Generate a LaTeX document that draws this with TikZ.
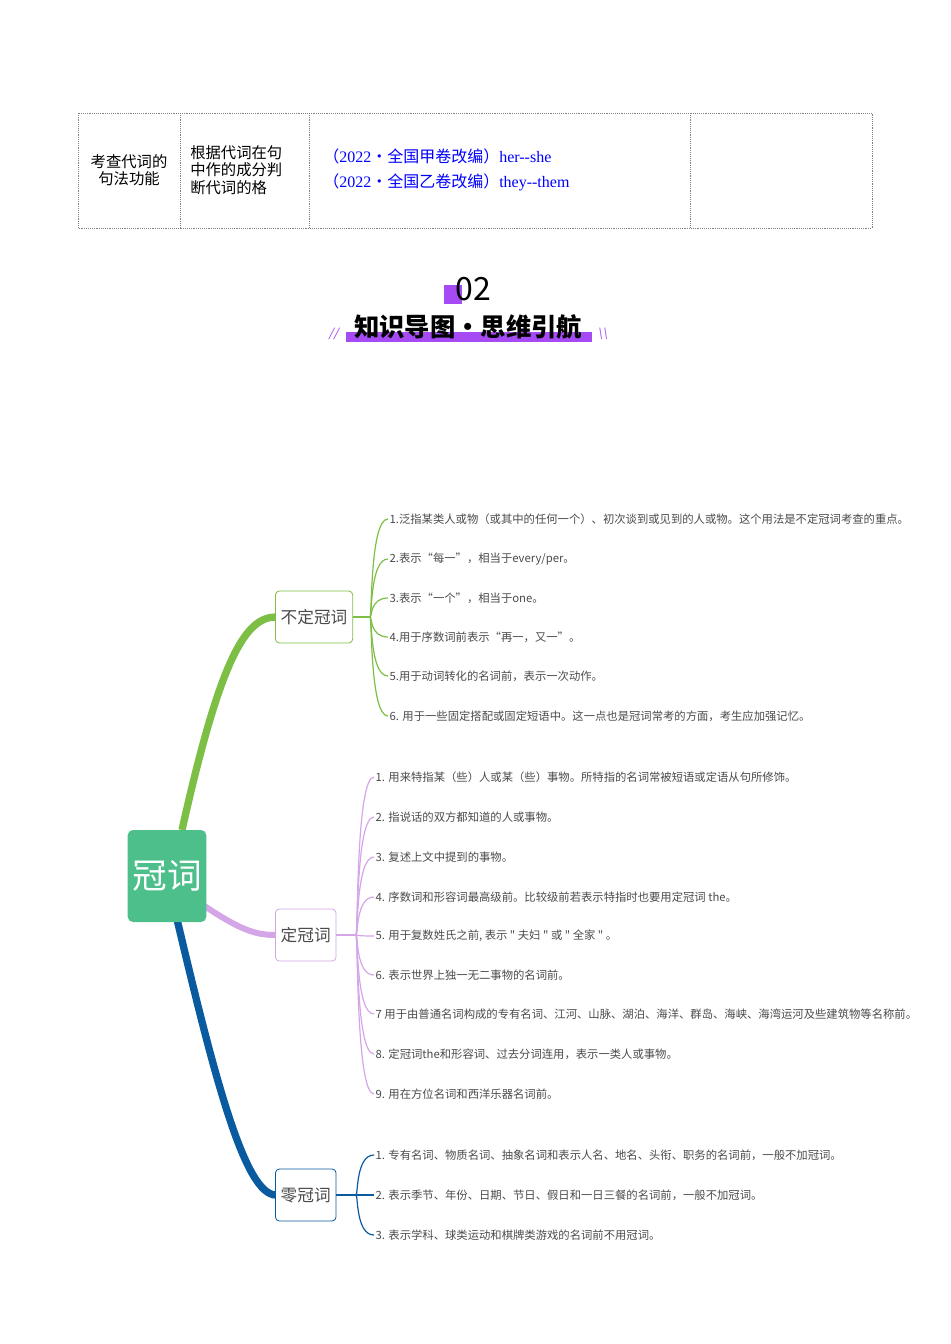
\documentclass[tikz,border=0pt]{standalone}
\usepackage{fontspec}
\setmainfont{Liberation Serif}
\newfontfamily\cjk{Noto Sans CJK SC}
\usetikzlibrary{positioning}
\definecolor{rootgreen}{HTML}{4DBF8A}
\definecolor{brgreen}{HTML}{7DBE45}
\definecolor{brlilac}{HTML}{D4A6E8}
\definecolor{brblue}{HTML}{0A5AA0}
\definecolor{titlepurple}{HTML}{A64BF4}
\definecolor{itemgray}{HTML}{4A4A4A}
\tikzset{
  cell/.style = {font=\cjk\fontsize{11.5}{13}\selectfont, align=left},
  branch/.style = {draw=#1, rounded corners=3pt, fill=white, line width=0.6pt,
                   font=\cjk\fontsize{12.5}{14}\selectfont, text=itemgray,
                   minimum height=39pt, inner sep=4pt},
  item/.style = {anchor=west, font=\cjk\fontsize{8.5}{10}\selectfont, text=itemgray, inner sep=1pt}
}
\begin{document}
\begin{tikzpicture}[x=0.75pt,y=-0.75pt]
	\useasboundingbox (0,0) rectangle (950,1344);
	
	% Table
	\draw[gray, densely dotted] (78,113) rectangle (872,228);
	\draw[gray, densely dotted] (180,113) -- (180,228);
	\draw[gray, densely dotted] (309,113) -- (309,228);
	\draw[gray, densely dotted] (690,113) -- (690,228);
	\node[cell, align=center] (c1) at (129,170) {考查代词的\\句法功能};
	\node[cell, anchor=west, inner sep=0pt] (c2) at (190,170) {根据代词在句\\中作的成分判\\断代词的格};
	\node[anchor=west, text=blue, inner sep=0pt, font=\fontsize{12}{14}\selectfont] (c3a) at (323,156) {{\cjk（}2022{\cjk·全国甲卷改编）}her-{}-she};
	\node[anchor=west, text=blue, inner sep=0pt, font=\fontsize{12}{14}\selectfont] (c3b) at (323,182) {{\cjk（}2022{\cjk·全国乙卷改编）}they-{}-them};
	
	% Heading
	\fill[titlepurple] (444,285) rectangle (462,304);
	\node[font=\cjk\fontsize{24}{26}\selectfont] (num) at (473,289) {02};
	\fill[titlepurple] (346,332) rectangle (592,342);
	\node[font=\cjk\bfseries\fontsize{19}{21}\selectfont] (title) at (468,327) {知识导图·思维引航};
	\node[text=titlepurple, font=\itshape\fontsize{13}{14}\selectfont] (sl1) at (334,334) {//};
	\node[text=titlepurple, font=\itshape\fontsize{13}{14}\selectfont] (sl2) at (603,334) {\textbackslash\textbackslash};
	
	% Main branches
	\draw[brgreen, line width=5.5pt] (182,830) .. controls (220,660) and (245,617) .. (276,617);
	\draw[brlilac, line width=4.5pt] (200,903) .. controls (240,930) and (255,935) .. (276,935);
	\draw[brblue, line width=5.5pt] (176,915) .. controls (215,1080) and (245,1195) .. (276,1195);
	
	% Nodes
	\node[fill=rootgreen, rounded corners=4pt, minimum width=59pt, minimum height=69pt,
	      text=white, font=\cjk\fontsize{26}{28}\selectfont] (root) at (167,876) {冠词};
	\node[branch=brgreen, anchor=west] (indef) at (275,617) {不定冠词};
	\node[branch=brlilac, anchor=west] (def) at (275,935) {定冠词};
	\node[branch=brblue, anchor=west] (zero) at (275,1195) {零冠词};
	
	% Indefinite article
	\coordinate (ia) at (370,617);
	\draw[brgreen, line width=1.2pt] (indef.east) -- (ia);
	\node[item] (i1) at (388,519) {1.泛指某类人或物（或其中的任何一个）、初次谈到或见到的人或物。这个用法是不定冠词考查的重点。};
	\node[item] (i2) at (388,559) {2.表示“每一”，相当于every/per。};
	\node[item] (i3) at (388,598) {3.表示“一个”，相当于one。};
	\node[item] (i4) at (388,637) {4.用于序数词前表示“再一，又一”。};
	\node[item] (i5) at (388,676) {5.用于动词转化的名词前，表示一次动作。};
	\node[item] (i6) at (388,716) {6. 用于一些固定搭配或固定短语中。这一点也是冠词常考的方面，考生应加强记忆。};
	\foreach \n in {i1,i2,i3,i4,i5,i6}
		\draw[brgreen, line width=0.9pt] (ia) .. controls +(2,0) and (\n.west -| ia) .. (\n.west);
	
	% Definite article
	\coordinate (da) at (356,935);
	\draw[brlilac, line width=1.2pt] (def.east) -- (da);
	\node[item] (d1) at (374,777) {1. 用来特指某（些）人或某（些）事物。所特指的名词常被短语或定语从句所修饰。};
	\node[item] (d2) at (374,817) {2. 指说话的双方都知道的人或事物。};
	\node[item] (d3) at (374,857) {3. 复述上文中提到的事物。};
	\node[item] (d4) at (374,897) {4. 序数词和形容词最高级前。比较级前若表示特指时也要用定冠词 the。};
	\node[item] (d5) at (374,936) {5. 用于复数姓氏之前, 表示 " 夫妇 " 或 " 全家 " 。};
	\node[item] (d6) at (374,975) {6. 表示世界上独一无二事物的名词前。};
	\node[item] (d7) at (374,1014) {7 用于由普通名词构成的专有名词、江河、山脉、湖泊、海洋、群岛、海峡、海湾运河及些建筑物等名称前。};
	\node[item] (d8) at (374,1054) {8. 定冠词the和形容词、过去分词连用，表示一类人或事物。};
	\node[item] (d9) at (374,1094) {9. 用在方位名词和西洋乐器名词前。};
	\foreach \n in {d1,d2,d3,d4,d5,d6,d7,d8,d9}
		\draw[brlilac, line width=0.9pt] (da) .. controls +(2,0) and (\n.west -| da) .. (\n.west);
	
	% Zero article
	\coordinate (za) at (356,1195);
	\draw[brblue, line width=1.2pt] (zero.east) -- (za);
	\node[item] (z1) at (374,1155) {1. 专有名词、物质名词、抽象名词和表示人名、地名、头衔、职务的名词前，一般不加冠词。};
	\node[item] (z2) at (374,1195) {2. 表示季节、年份、日期、节日、假日和一日三餐的名词前，一般不加冠词。};
	\node[item] (z3) at (374,1235) {3. 表示学科、球类运动和棋牌类游戏的名词前不用冠词。};
	\foreach \n in {z1,z2,z3}
		\draw[brblue, line width=0.9pt] (za) .. controls +(2,0) and (\n.west -| za) .. (\n.west);
	
\end{tikzpicture}
\end{document}
